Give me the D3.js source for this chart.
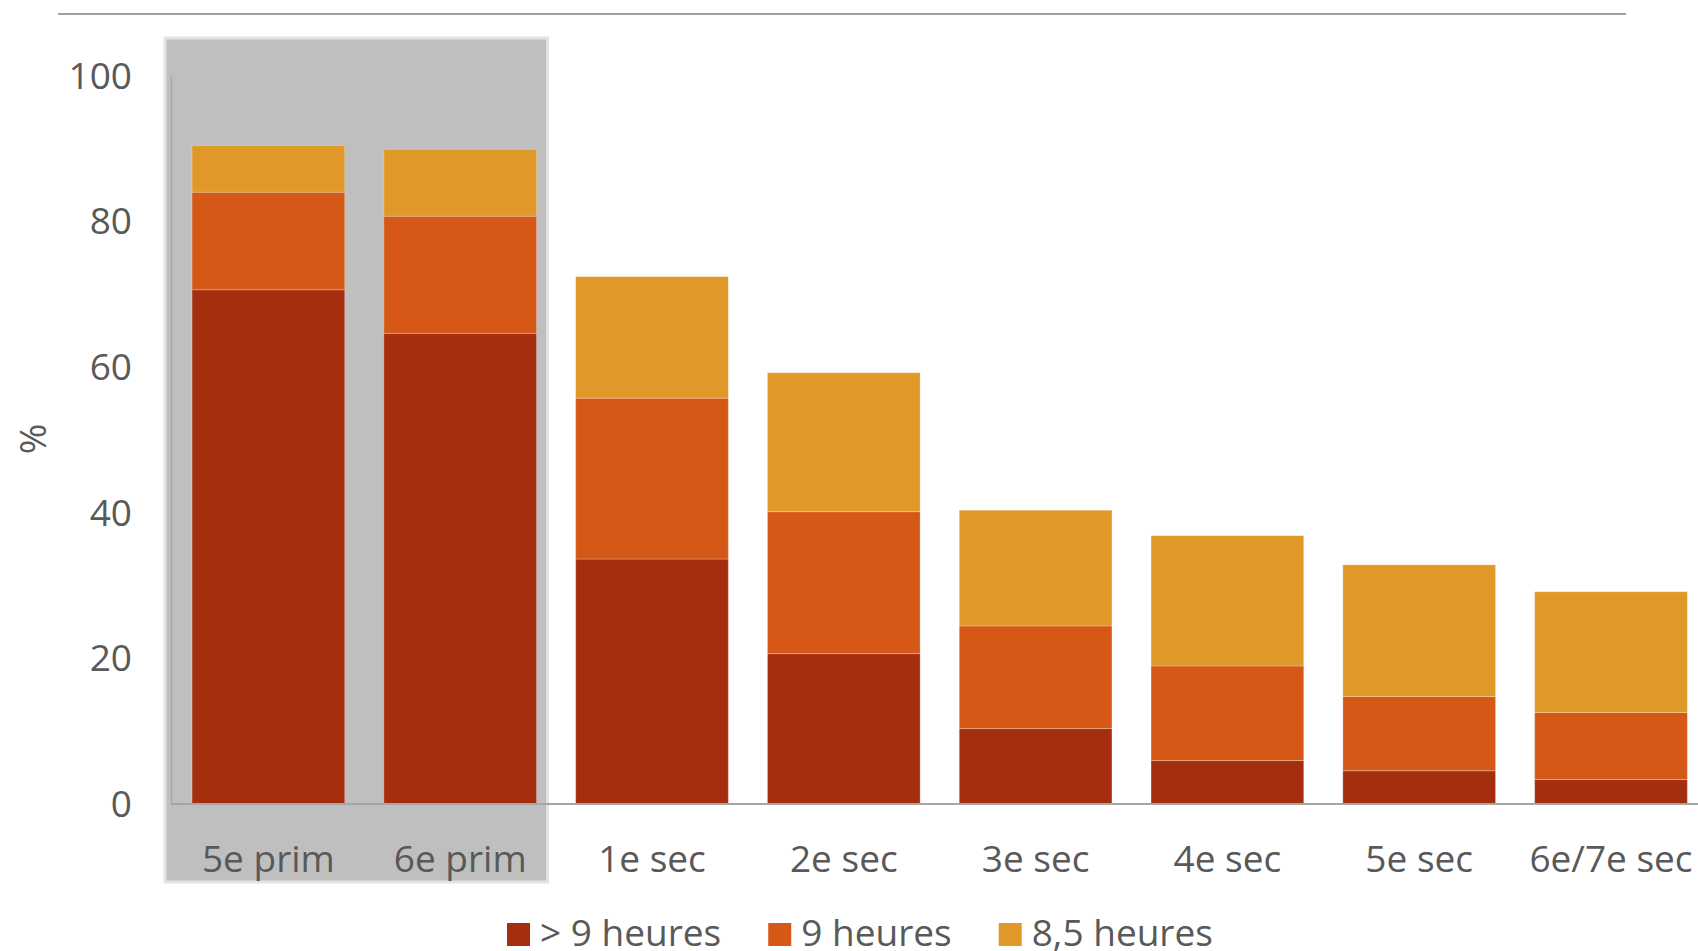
<!DOCTYPE html>
<html>
<head>
<meta charset="utf-8">
<script src="https://cdn.jsdelivr.net/npm/d3@7"></script>
<style>
  html, body { margin: 0; padding: 0; background: #ffffff; }
  svg { display: block; }
  text { font-family: "Open Sans", "Noto Sans", sans-serif; fill: #595959; }
</style>
</head>
<body>
<svg id="chart" width="1698" height="951"></svg>
<script>
// School years
const categories = ["5e prim", "6e prim", "1e sec", "2e sec", "3e sec", "4e sec", "5e sec", "6e/7e sec"];

// Share of pupils (%) by sleep duration, stacked bottom to top
const moreThan9h = [70.6, 64.6, 33.6, 20.6, 10.3, 5.9, 4.5, 3.3];
const nineHours  = [13.4, 16.1, 22.1, 19.5, 14.1, 13.0, 10.2, 9.2];
const eightHalf  = [6.4, 9.2, 16.7, 19.1, 15.9, 17.9, 18.1, 16.6];

const seriesNames = ["> 9 heures", "9 heures", "8,5 heures"];
const seriesColors = ["#A52E0F", "#D55817", "#E09828"];
const yTicks = [0, 20, 40, 60, 80, 100];
const highlighted = ["5e prim", "6e prim"];
const yLabel = "%";

const rows = categories.map((c, i) => ({
  cat: c,
  "> 9 heures": moreThan9h[i],
  "9 heures": nineHours[i],
  "8,5 heures": eightHalf[i]
}));

const svg = d3.select("#chart");

const x0 = 171, yBase = 803.5, yTop = 75.8;
const step = 191.8;

const x = d3.scaleBand()
  .domain(categories)
  .range([x0 + 1.5, x0 + 1.5 + step * categories.length])
  .paddingInner(0.204)
  .paddingOuter(0.102);

const y = d3.scaleLinear().domain([0, 100]).range([yBase, yTop]);

const color = d3.scaleOrdinal().domain(seriesNames).range(seriesColors);

// Thin rule across the top
svg.append("line")
  .attr("x1", 58).attr("x2", 1626)
  .attr("y1", 14).attr("y2", 14)
  .attr("stroke", "#a0a0a0").attr("stroke-width", 2);

// Grey panel behind the primary-school bars
const hx1 = 165;
const hx2 = x(highlighted[highlighted.length - 1]) + x.bandwidth() + 11;
svg.append("rect")
  .attr("x", hx1).attr("y", 38)
  .attr("width", hx2 - hx1).attr("height", 844)
  .attr("fill", "#bfbfbf")
  .attr("stroke", "#dfe3e7").attr("stroke-width", 3);

// Stacked bars
const stack = d3.stack().keys(seriesNames);
const layers = stack(rows);

svg.append("g").selectAll("g")
  .data(layers)
  .join("g")
  .attr("fill", d => color(d.key))
  .selectAll("rect")
  .data(d => d)
  .join("rect")
  .attr("x", d => x(d.data.cat))
  .attr("y", d => y(d[1]))
  .attr("width", x.bandwidth())
  .attr("height", d => y(d[0]) - y(d[1]))
  .attr("stroke", "rgba(255,255,255,0.25)")
  .attr("stroke-width", 1);

// Y axis
const yAxis = svg.append("g")
  .attr("transform", `translate(${x0},0)`)
  .call(d3.axisLeft(y).tickValues(yTicks).tickSize(0).tickPadding(39));
yAxis.select(".domain").attr("stroke", "#a6a6a6").attr("stroke-width", 1.5);
yAxis.selectAll("text")
  .style("font-family", '"Open Sans", sans-serif')
  .style("font-size", "37px")
  .attr("fill", "#595959")
  .attr("dy", "0.34em");

// X axis
const xAxis = svg.append("g")
  .attr("transform", `translate(0,${yBase})`)
  .call(d3.axisBottom(x).tickSize(0).tickPadding(0));
xAxis.select(".domain")
  .attr("d", `M${x0},0.5H1698`)
  .attr("stroke", "#a6a6a6").attr("stroke-width", 2);
xAxis.selectAll("text")
  .style("font-family", '"Open Sans", sans-serif')
  .style("font-size", "37px")
  .attr("fill", "#595959")
  .attr("dy", null)
  .attr("y", 872 - yBase);

// Axis title
svg.append("text")
  .attr("transform", "translate(46,439) rotate(-90)")
  .attr("text-anchor", "middle")
  .style("font-size", "37px")
  .text(yLabel);

// Legend
const legend = svg.append("g");
let lx = 507;
seriesNames.forEach(name => {
  legend.append("rect")
    .attr("x", lx).attr("y", 923)
    .attr("width", 23).attr("height", 23)
    .attr("fill", color(name));
  const t = legend.append("text")
    .attr("x", lx + 33).attr("y", 946)
    .style("font-size", "37px")
    .text(name);
  lx += 33 + t.node().getComputedTextLength() + 47;
});
</script>
</body>
</html>
